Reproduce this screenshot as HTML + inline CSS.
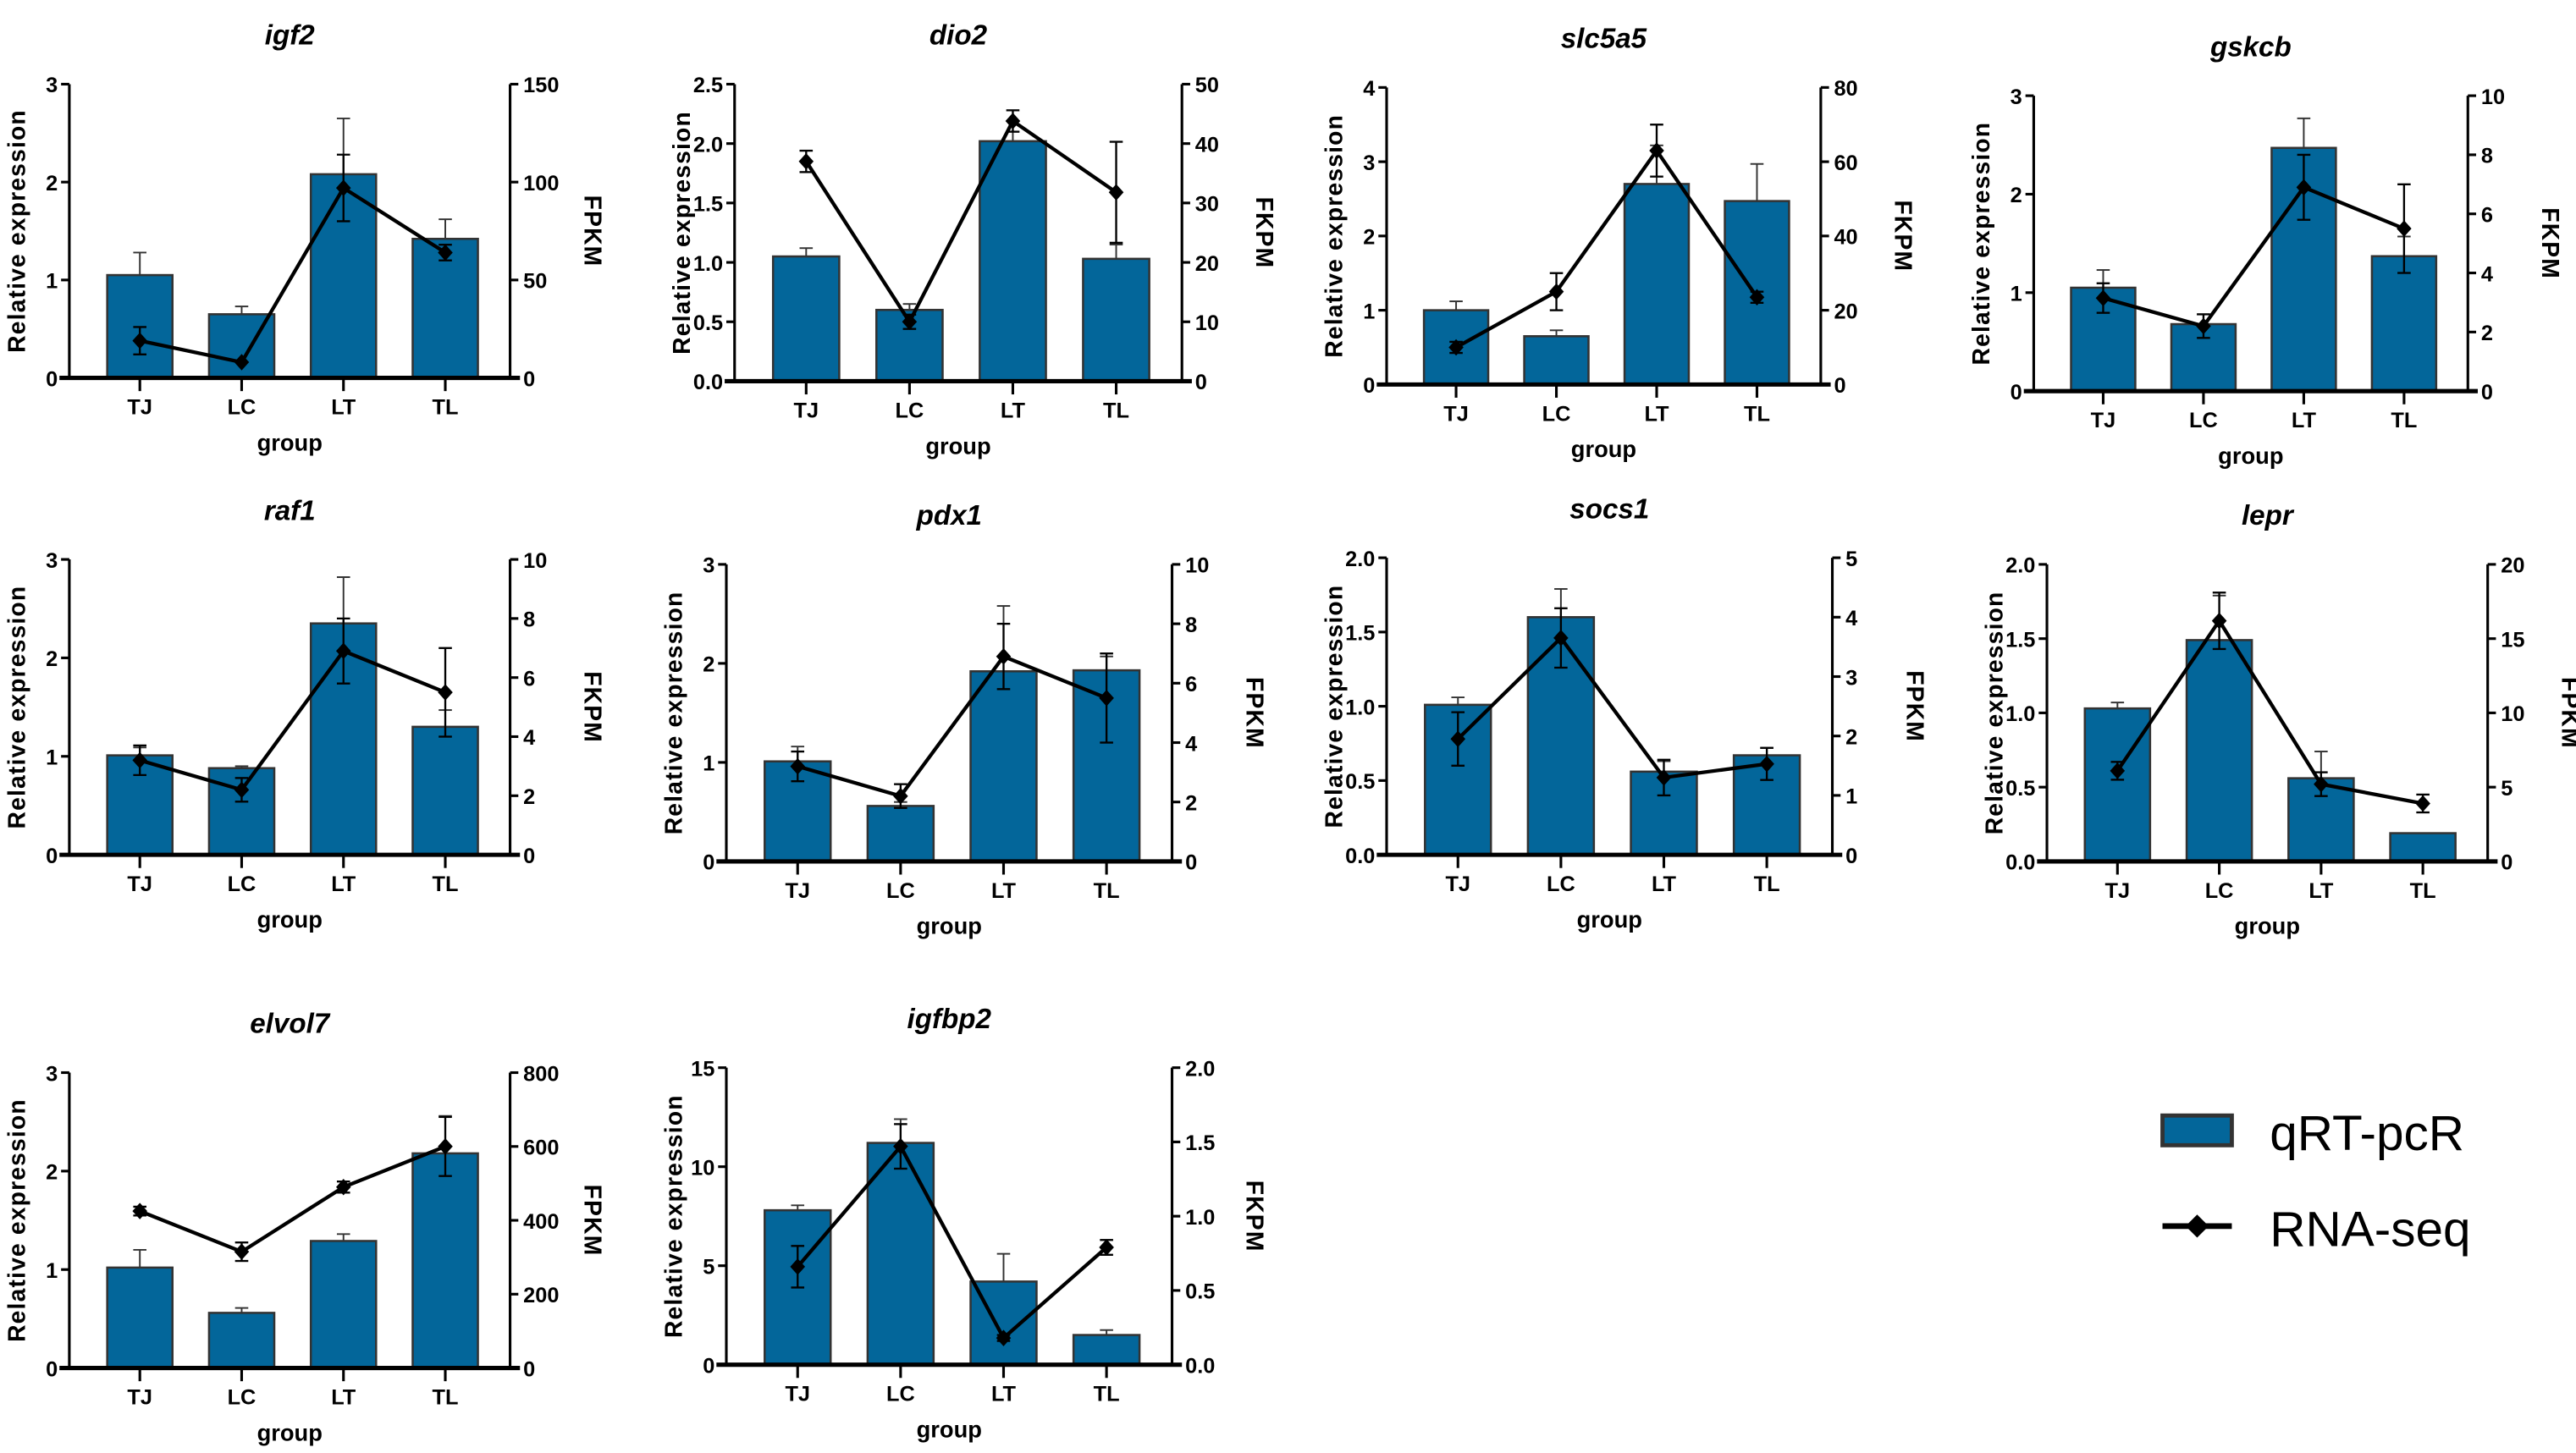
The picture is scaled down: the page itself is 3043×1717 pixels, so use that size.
<!DOCTYPE html>
<html><head><meta charset="utf-8"><style>
html,body{margin:0;padding:0;background:#fff;}
svg{display:block;}
text{font-family:"Liberation Sans",Arial,sans-serif;font-weight:bold;fill:#000;}
</style></head><body>
<svg id="fig" xmlns="http://www.w3.org/2000/svg" width="3043" height="1717" viewBox="0 0 1560.5 880.5">
<g id="legend">
  <g>
    <rect x="1310" y="676" width="42" height="18" fill="#03669a" stroke="#333" stroke-width="2.5"/>
    <text x="1375" y="697" font-size="30" style="font-weight:normal">qRT-pcR</text>
  </g>
  <g>
    <line x1="1310" y1="743" x2="1352" y2="743" stroke="#000" stroke-width="3.5"/>
    <path d="M1331 736 L1338 743 L1331 750 L1324 743 Z" fill="#000"/>
    <text x="1375" y="755" font-size="30" style="font-weight:normal">RNA-seq</text>
  </g>
</g>
</svg>
<script>
const categories = ["TJ","LC","LT","TL"];

const igf2Bars=[1.05,0.65,2.08,1.42], igf2BarErr=[0.23,0.08,0.57,0.2], igf2Line=[19,8,97,64], igf2LineErr=[7,0,17,4];
const dio2Bars=[1.05,0.6,2.02,1.03], dio2BarErr=[0.07,0.05,0.08,0.12], dio2Line=[37,10,43.8,31.8], dio2LineErr=[1.8,1.2,1.8,8.5];
const slc5a5Bars=[1.0,0.65,2.7,2.47], slc5a5BarErr=[0.12,0.08,0.52,0.5], slc5a5Line=[10,25,63,23.5], slc5a5LineErr=[1.5,5,7,1.5];
const gskcbBars=[1.05,0.68,2.47,1.37], gskcbBarErr=[0.18,0.1,0.3,0.2], gskcbLine=[3.15,2.2,6.9,5.5], gskcbLineErr=[0.5,0.4,1.1,1.5];
const raf1Bars=[1.01,0.88,2.35,1.3], raf1BarErr=[0.08,0.02,0.47,0.17], raf1Line=[3.2,2.2,6.9,5.5], raf1LineErr=[0.5,0.4,1.1,1.5];
const pdx1Bars=[1.01,0.56,1.92,1.93], pdx1BarErr=[0.15,0.04,0.66,0.14], pdx1Line=[3.2,2.2,6.9,5.5], pdx1LineErr=[0.5,0.4,1.1,1.5];
const socs1Bars=[1.01,1.6,0.56,0.67], socs1BarErr=[0.05,0.19,0.07,0.05], socs1Line=[1.95,3.65,1.3,1.53], socs1LineErr=[0.45,0.5,0.3,0.27];
const leprBars=[1.03,1.49,0.56,0.19], leprBarErr=[0.04,0.3,0.18,0], leprLine=[6.1,16.2,5.2,3.9], leprLineErr=[0.6,1.9,0.8,0.6];
const elvol7Bars=[1.02,0.56,1.29,2.18], elvol7BarErr=[0.18,0.05,0.07,0.38], elvol7Line=[425,315,490,600], elvol7LineErr=[12,25,15,80];
const igfbp2Bars=[7.8,11.2,4.2,1.5], igfbp2BarErr=[0.25,1.2,1.4,0.25], igfbp2Line=[0.66,1.47,0.18,0.79], igfbp2LineErr=[0.14,0.15,0.02,0.05];

const leftTicks={a:[0,1,2,3], b:[0,0.5,1.0,1.5,2.0,2.5], c:[0,1,2,3,4], d:[0,0.5,1.0,1.5,2.0], e:[0,5,10,15]};
const rightTicks={a:[0,50,100,150], b:[0,10,20,30,40,50], c:[0,20,40,60,80], d:[0,2,4,6,8,10], e:[0,1,2,3,4,5], f:[0,5,10,15,20], g:[0,200,400,600,800], h:[0,0.5,1.0,1.5,2.0]};

const panels=[
 {id:"igf2",L:42,R:309,T:51,B:229,lt:leftTicks.a,ld:0,rt:rightTicks.a,rd:0,rl:"FPKM",bars:igf2Bars,be:igf2BarErr,line:igf2Line,le:igf2LineErr},
 {id:"dio2",L:445,R:716,T:51,B:231,lt:leftTicks.b,ld:1,rt:rightTicks.b,rd:0,rl:"FKPM",bars:dio2Bars,be:dio2BarErr,line:dio2Line,le:dio2LineErr},
 {id:"slc5a5",L:840,R:1103,T:53,B:233,lt:leftTicks.c,ld:0,rt:rightTicks.c,rd:0,rl:"FKPM",bars:slc5a5Bars,be:slc5a5BarErr,line:slc5a5Line,le:slc5a5LineErr},
 {id:"gskcb",L:1232,R:1495,T:58,B:237,lt:leftTicks.a,ld:0,rt:rightTicks.d,rd:0,rl:"FKPM",bars:gskcbBars,be:gskcbBarErr,line:gskcbLine,le:gskcbLineErr},
 {id:"raf1",L:42,R:309,T:339,B:518,lt:leftTicks.a,ld:0,rt:rightTicks.d,rd:0,rl:"FKPM",bars:raf1Bars,be:raf1BarErr,line:raf1Line,le:raf1LineErr},
 {id:"pdx1",L:440,R:710,T:342,B:522,lt:leftTicks.a,ld:0,rt:rightTicks.d,rd:0,rl:"FPKM",bars:pdx1Bars,be:pdx1BarErr,line:pdx1Line,le:pdx1LineErr},
 {id:"socs1",L:840,R:1110,T:338,B:518,lt:leftTicks.d,ld:1,rt:rightTicks.e,rd:0,rl:"FPKM",bars:socs1Bars,be:socs1BarErr,line:socs1Line,le:socs1LineErr},
 {id:"lepr",L:1240,R:1507,T:342,B:522,lt:leftTicks.d,ld:1,rt:rightTicks.f,rd:0,rl:"FPKM",bars:leprBars,be:leprBarErr,line:leprLine,le:leprLineErr},
 {id:"elvol7",L:42,R:309,T:650,B:829,lt:leftTicks.a,ld:0,rt:rightTicks.g,rd:0,rl:"FPKM",bars:elvol7Bars,be:elvol7BarErr,line:elvol7Line,le:elvol7LineErr},
 {id:"igfbp2",L:440,R:710,T:647,B:827,lt:leftTicks.e,ld:0,rt:rightTicks.h,rd:1,rl:"FKPM",bars:igfbp2Bars,be:igfbp2BarErr,line:igfbp2Line,le:igfbp2LineErr}
];

const NS="http://www.w3.org/2000/svg";
const svg=document.getElementById("fig");
function mk(tag,attrs,parent,txt){const e=document.createElementNS(NS,tag);for(const k in attrs)e.setAttribute(k,attrs[k]);if(txt!==undefined)e.textContent=txt;parent.appendChild(e);return e;}

panels.forEach(p=>{
  const g=mk("g",{},svg);
  
  
  const W=p.R-p.L;
  const lmax=p.lt[p.lt.length-1], rmax=p.rt[p.rt.length-1];
  const yL=v=>p.B-(v/lmax)*(p.B-p.T);
  const yR=v=>p.B-(v/rmax)*(p.B-p.T);
  const xC=i=>p.L+W*0.16+i*W*0.231;
  const bw=W*0.148;
  const cx=(p.L+p.R)/2;
  const t=mk("text",{x:cx,y:p.T-24,"font-size":17,"font-style":"italic","text-anchor":"middle"},g,p.id);
  
  
  p.bars.forEach((v,i)=>{
    const x=xC(i), yb=yL(v), ye=yL(v+p.be[i]);
    if(p.be[i]>0){
      mk("line",{x1:x,y1:yb,x2:x,y2:ye,stroke:"#333","stroke-width":1},g);
      mk("line",{x1:x-4,y1:ye,x2:x+4,y2:ye,stroke:"#333","stroke-width":1},g);
    }
    const r=mk("rect",{x:x-bw/2,y:yb,width:bw,height:p.B-yb,fill:"#03669a",stroke:"#333","stroke-width":1.3},g);
    
    
  });
  const pts=p.line.map((v,i)=>[xC(i),yR(v)]);
  const pl=mk("polyline",{points:pts.map(q=>q.join(",")).join(" "),fill:"none",stroke:"#000","stroke-width":2.2},g);
  
  
  p.line.forEach((v,i)=>{
    const x=xC(i), y1=yR(v+p.le[i]), y2=yR(v-p.le[i]);
    if(p.le[i]>0){
      mk("line",{x1:x,y1:y1,x2:x,y2:y2,stroke:"#000","stroke-width":1.2},g);
      mk("line",{x1:x-4,y1:y1,x2:x+4,y2:y1,stroke:"#000","stroke-width":1.2},g);
      mk("line",{x1:x-4,y1:y2,x2:x+4,y2:y2,stroke:"#000","stroke-width":1.2},g);
    }
    const y=yR(v);
    const d=mk("path",{d:`M${x} ${y-5} L${x+4.5} ${y} L${x} ${y+5} L${x-4.5} ${y} Z`,fill:"#000"},g);
    
    
  });
  mk("line",{x1:p.L,y1:p.T,x2:p.L,y2:p.B,stroke:"#000","stroke-width":1.6},g);
  mk("line",{x1:p.R,y1:p.T,x2:p.R,y2:p.B,stroke:"#000","stroke-width":1.6},g);
  const xa=mk("line",{x1:p.L-6,y1:p.B,x2:p.R+6,y2:p.B,stroke:"#000","stroke-width":2.6},g);
  
  
  p.lt.forEach(v=>{
    const y=yL(v);
    mk("line",{x1:p.L-5,y1:y,x2:p.L,y2:y,stroke:"#000","stroke-width":1.6},g);
    mk("text",{x:p.L-7,y:y+5,"font-size":13,"text-anchor":"end"},g,v.toFixed(p.ld));
  });
  p.rt.forEach(v=>{
    const y=yR(v);
    mk("line",{x1:p.R,y1:y,x2:p.R+5,y2:y,stroke:"#000","stroke-width":1.6},g);
    mk("text",{x:p.R+8,y:y+5,"font-size":13,"text-anchor":"start"},g,v.toFixed(p.rd));
  });
  categories.forEach((c,i)=>{
    const x=xC(i);
    mk("line",{x1:x,y1:p.B,x2:x,y2:p.B+8,stroke:"#000","stroke-width":1.6},g);
    mk("text",{x:x,y:p.B+22,"font-size":13,"text-anchor":"middle"},g,c);
  });
  const xl=mk("text",{x:cx,y:p.B+44,"font-size":14,"text-anchor":"middle"},g,"group");
  
  
  const my=(p.T+p.B)/2;
  const yl=mk("text",{x:0,y:0,"font-size":14.5,"letter-spacing":"0.6","text-anchor":"middle",transform:`translate(${p.L-27},${my}) rotate(-90)`},g,"Relative expression");
  
  
  const yr=mk("text",{x:0,y:0,"font-size":14.5,"letter-spacing":"0.6","text-anchor":"middle",transform:`translate(${p.R+45},${my}) rotate(90)`},g,p.rl);
  
  
});
</script>
</body></html>
